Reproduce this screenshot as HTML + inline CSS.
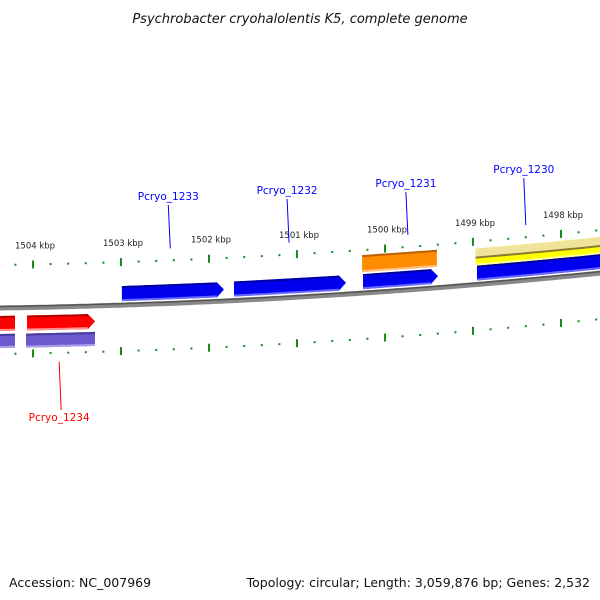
<!DOCTYPE html>
<html><head><meta charset="utf-8"><style>
html,body{margin:0;padding:0;background:#fff;width:600px;height:600px;overflow:hidden}
svg{display:block;font-family:"DejaVu Sans","Liberation Sans",sans-serif}
</style></head><body>
<svg id="map" width="600" height="600" viewBox="0 0 600 600">
<text x="300" y="23" text-anchor="middle" font-size="13" font-style="italic" fill="#111">Psychrobacter cryohalolentis K5, complete genome</text>
<text x="9" y="587" font-size="12.5" fill="#111">Accession: NC_007969</text>
<text x="590" y="587" font-size="12.5" text-anchor="end" fill="#111">Topology: circular; Length: 3,059,876 bp; Genes: 2,532</text>
<g id="layer"></g>
</svg>
<script>
// positions in kbp
const tickKbp = [1504,1503,1502,1501,1500,1499,1498];
const tickLabels = ["1504 kbp","1503 kbp","1502 kbp","1501 kbp","1500 kbp","1499 kbp","1498 kbp"];
const geneNames = ["Pcryo_1233","Pcryo_1232","Pcryo_1231","Pcryo_1231b","Pcryo_1230","Pcryo_1230b","Pcryo_1234","Pcryo_1234b","Pcryo_1235","Pcryo_1235b"];
const geneStart = [1502.99,1501.716,1500.25,1500.26,1498.955,1498.97,1504.068,1504.08,1504.40,1504.40];
const geneEnd   = [1501.83,1500.443,1499.398,1499.41,1497.4,1497.4,1503.295,1503.295,1504.205,1504.205];
const geneTrack = ["blue","blue","blue","orange","blue","yellow","red","purple","red","purple"];
const geneArrow = [true,true,true,false,false,false,true,false,false,false];
const labelNames = ["Pcryo_1233","Pcryo_1232","Pcryo_1231","Pcryo_1230","Pcryo_1234"];
const labelKbp = [1502.44,1501.09,1499.74,1498.4,1503.68];

const ns="http://www.w3.org/2000/svg";
const L=document.getElementById('layer');
function X(k){return 33+(1504-k)*88;}
function B(x){return 308-0.015*x-7.2e-5*x*x;}
function mk(t,a){const e=document.createElementNS(ns,t);for(const k in a)e.setAttribute(k,a[k]);L.appendChild(e);return e;}
function band(x1,x2,o1,o2){const pts=[];const n=12;
 for(let i=0;i<=n;i++){const x=x1+(x2-x1)*i/n;pts.push(x.toFixed(1)+","+(B(x)+o1).toFixed(1));}
 for(let i=n;i>=0;i--){const x=x1+(x2-x1)*i/n;pts.push(x.toFixed(1)+","+(B(x)+o2).toFixed(1));}
 return pts.join(" ");}
// backbone
let d="";for(let x=-5;x<=605;x+=5)d+=(x<0?"M":"L")+x+","+B(x).toFixed(1);
const bb=mk('path',{d:d,stroke:'#888',"stroke-width":5,fill:'none'});

const bb2=mk('path',{d:d,stroke:'#555',"stroke-width":1.5,fill:'none',transform:'translate(0,-1.5)'});

// ticks
for(let s=0;s<2;s++){const off=s===0?-43:46;
 for(let k=1504.4;k>=1497.4;k-=0.2){const kk=Math.round(k*10)/10;const x=X(kk);if(x<0||x>600)continue;
  const major=Math.abs(kk-Math.round(kk))<0.01;const y=B(x)+off;
  const t=mk('line',{x1:x,x2:x,y1:y-(major?4:1),y2:y+(major?4:1),stroke:'#1a8a1a',"stroke-width":2});
  }}
tickKbp.forEach((k,i)=>{const x=X(k);const t=mk('text',{x:x-18,y:B(x)-59,"font-size":8.5,fill:'#222'});t.textContent=tickLabels[i];
 });
// genes
const col={blue:['#0000ee','#0000a0','#6666ff'],orange:['#ff8c00','#b86400','#ffc080'],yellow:['#ffff00','#c8c800','#ffff99'],red:['#ff0000','#b00000','#ff9090'],purple:['#6a5acd','#4a3a9d','#a8a0e8']};
const offs={blue:[-19,-4],orange:[-38,-21],yellow:[-36,-19],red:[8,23],purple:[26,40]};
geneNames.forEach((n,i)=>{let x1=X(geneStart[i]),x2=X(geneEnd[i]);const c=col[geneTrack[i]];const o=offs[geneTrack[i]];
 const g=document.createElementNS(ns,'g');L.appendChild(g);
 
 const fwd=x2>x1;const a=Math.min(x1,x2),b=Math.max(x1,x2);
 let pts;
 if(geneArrow[i]){const m=(o[0]+o[1])/2;
  if(fwd){pts=band(a,b-7,o[0],o[1])+" ";const tip=b;pts=band(a,b-7,o[0],o[1]);pts+=" ";
   const p=[];p.push(a+","+(B(a)+o[0]));p.push((b-7)+","+(B(b-7)+o[0]));p.push(b+","+(B(b)+m));p.push((b-7)+","+(B(b-7)+o[1]));p.push(a+","+(B(a)+o[1]));pts=p.join(" ");}
  else{const p=[];p.push((a+7)+","+(B(a+7)+o[0]));p.push(b+","+(B(b)+o[0]));p.push(b+","+(B(b)+o[1]));p.push((a+7)+","+(B(a+7)+o[1]));p.push(a+","+(B(a)+m));pts=p.join(" ");}
 } else pts=band(a,b,o[0],o[1]);
 const e=document.createElementNS(ns,'polygon');e.setAttribute('points',pts);e.setAttribute('fill',c[0]);g.appendChild(e);
 let top=geneTrack[i]==='yellow'?band(a,b,o[0],o[0]+9):band(a+(geneArrow[i]&&!fwd?7:0),b-(geneArrow[i]&&fwd?7:0),o[0],o[0]+2);
 const e2=document.createElementNS(ns,'polygon');e2.setAttribute('points',top);e2.setAttribute('fill',geneTrack[i]==='yellow'?'#efe49a':c[1]);g.appendChild(e2);
 if(geneTrack[i]==='yellow'){const e4=document.createElementNS(ns,'polygon');e4.setAttribute('points',band(a,b,o[0]+8,o[0]+10));e4.setAttribute('fill','#8a7a30');g.appendChild(e4);}
 const e3=document.createElementNS(ns,'polygon');e3.setAttribute('points',band(a+(geneArrow[i]&&!fwd?7:0),b-(geneArrow[i]&&fwd?7:0),o[1]-2,o[1]));e3.setAttribute('fill',c[2]);g.appendChild(e3);
});
// labels
labelNames.forEach((n,i)=>{const x=X(labelKbp[i]);const red=i===4;const clr=red?'#ff0000':'#0000ff';
 let ty,ly1,ly2;
 if(red){ty=421;ly1=B(x)+55;ly2=410;}else{ly2=B(x)-55;ty=[200,194,187,173][i];ly1=ty+5;}
 const l=mk('line',{x1:x-2,y1:ly1,x2:x,y2:ly2,stroke:clr,"stroke-width":1});
 
 const t=mk('text',{x:x-2,y:ty,"font-size":10.5,"text-anchor":'middle',fill:clr});t.textContent=n;
 });
</script>
</body></html>
